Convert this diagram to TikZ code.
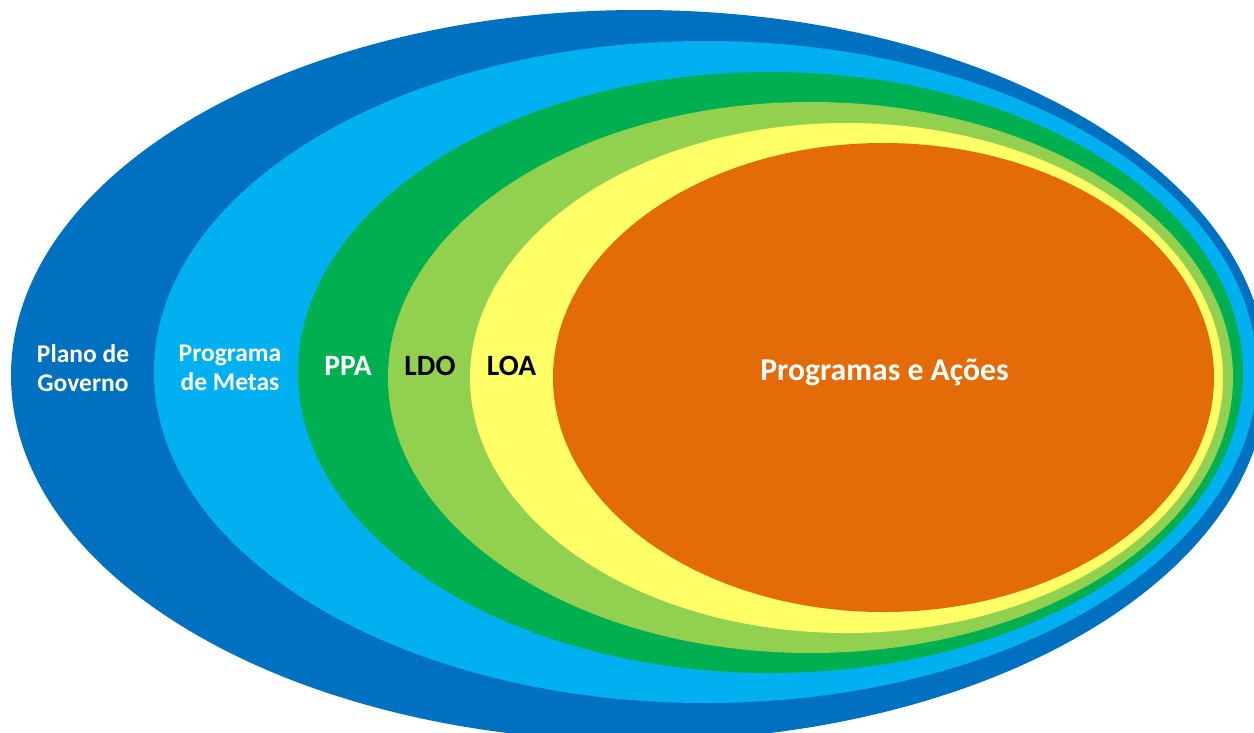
\documentclass[tikz,border=0pt]{standalone}
\usepackage{fontspec}
\setmainfont{Carlito}
\definecolor{dblue}{HTML}{0070C0}
\definecolor{lblue}{HTML}{00B0F0}
\definecolor{dgreen}{HTML}{00B050}
\definecolor{lgreen}{HTML}{92D050}
\definecolor{yel}{HTML}{FFFF66}
\definecolor{org}{HTML}{E36C09}
\tikzset{
  lab/.style={font=\bfseries\fontsize{25.5}{29}\selectfont, align=center, inner sep=0pt, text=white},
  midlab/.style={font=\bfseries\fontsize{29.5}{34}\selectfont, inner sep=0pt},
  biglab/.style={font=\bfseries\fontsize{31.7}{36}\selectfont, inner sep=0pt, text=white}
}
\begin{document}
\begin{tikzpicture}[x=1pt,y=-1pt]
\useasboundingbox (0,0) rectangle (1254,732);
\clip (0,0) rectangle (1254,732);
\fill[dblue]  (639,375.5) ellipse [x radius=628, y radius=365.5];
\fill[lblue]  (705.5,372) ellipse [x radius=551.5, y radius=331];
\fill[dgreen] (770.5,372.5) ellipse [x radius=472.5, y radius=300.5];
\fill[lgreen] (810.5,377.5) ellipse [x radius=422.5, y radius=275.5];
\fill[yel]    (846.5,378) ellipse [x radius=376.5, y radius=255];
\fill[org]    (883.5,377.5) ellipse [x radius=330.5, y radius=234.5];
\node[lab] (plano) at (83,368) {Plano de\\Governo};
\node[lab] (metas) at (230,368) {Programa\\de Metas};
\node[midlab, text=white] (ppa) at (348,366) {PPA};
\node[midlab, text=black] (ldo) at (430,366) {LDO};
\node[midlab, text=black] (loa) at (511.5,366) {LOA};
\node[biglab] (prog) at (884.5,372) {Programas e Ações};
\end{tikzpicture}
\end{document}
